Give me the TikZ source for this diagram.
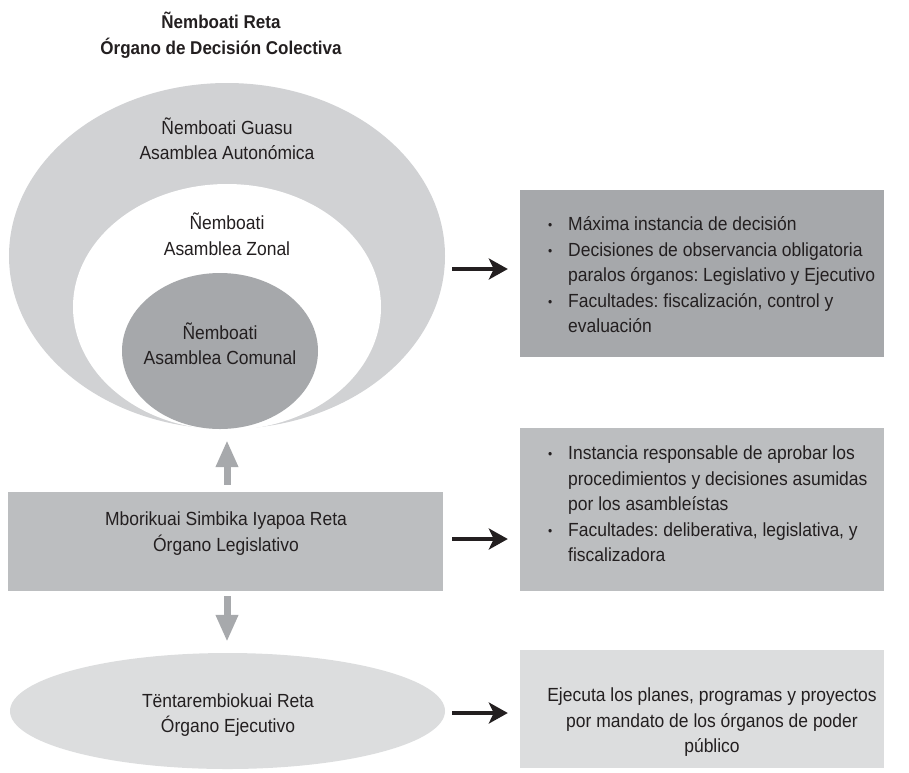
\documentclass[tikz,border=0pt]{standalone}
\usepackage{fontspec}
\setmainfont{Liberation Sans}[FakeStretch=0.92]
\usetikzlibrary{arrows.meta,shapes.geometric}
\frenchspacing
\definecolor{gOuter}{HTML}{D1D2D4}
\definecolor{gDark}{HTML}{A6A8AB}
\definecolor{gMid}{HTML}{BCBEC0}
\definecolor{gLight}{HTML}{DCDDDE}
\definecolor{gArrow}{HTML}{A7A9AC}
\definecolor{txt}{HTML}{231F20}
\newcommand\bitem{\makebox[20pt][l]{\fontsize{13}{13}\selectfont\raisebox{1pt}{•}}}
\newcommand\bcont{\hspace*{20pt}}
\tikzset{
  oval/.style={ellipse, inner sep=0pt, draw=none},
  panel/.style={rectangle, inner sep=0pt, draw=none},
  lbl/.style={text=txt, font=\fontsize{19}{25.5}\selectfont, align=center, inner sep=0pt},
  lbll/.style={text=txt, font=\fontsize{19}{25.5}\selectfont, align=left, inner sep=0pt},
  ttl/.style={text=txt, font=\bfseries\fontsize{18.5}{26}\selectfont, align=center, inner sep=0pt},
  blk/.style={draw=txt, line width=4pt, -{Stealth[length=19pt,width=21pt,inset=5pt]}},
  gry/.style={draw=gArrow, line width=7pt, -{Triangle[length=27pt,width=21pt]}},
}
\begin{document}
\begin{tikzpicture}[x=1pt,y=-1pt]
\useasboundingbox (0,0) rectangle (909,772);
% title
\node[ttl] (title) at (221,35) {Ñemboati Reta\\Órgano de Decisión Colectiva};
% nested ellipses
\node[oval, fill=gOuter, minimum width=436pt, minimum height=346pt] (outer) at (227,256) {};
\node[oval, fill=white, minimum width=308pt, minimum height=246pt] (zonal) at (227,307) {};
\node[oval, fill=gDark, minimum width=196pt, minimum height=156pt] (comunal) at (220,351) {};
\node[lbl] (tGuasu) at (227,138.5) {Ñemboati Guasu\\Asamblea Autonómica};
\node[lbl] (tZonal) at (227,234) {Ñemboati\\Asamblea Zonal};
\node[lbl] (tComunal) at (220,343.5) {Ñemboati\\Asamblea Comunal};
% legislative
\node[panel, fill=gMid, minimum width=435pt, minimum height=99pt] (legis) at (225.5,541.5) {};
\node[lbl] (tLegis) at (226,533.5) {Mborikuai Simbika Iyapoa Reta\\Órgano Legislativo};
% executive
\node[oval, fill=gLight, minimum width=435pt, minimum height=116pt] (exec) at (227.5,711) {};
\node[lbl] (tExec) at (228,715) {Tëntarembiokuai Reta\\Órgano Ejecutivo};
% right boxes
\node[panel, fill=gDark, minimum width=364pt, minimum height=167pt] (box1) at (702,273.5) {};
\node[lbll, anchor=west] (tBox1) at (548,275) {\bitem Máxima instancia de decisión\\
\bitem Decisiones de observancia obligatoria\\
\bcont paralos órganos: Legislativo y Ejecutivo\\
\bitem Facultades: fiscalización, control y\\
\bcont evaluación};
\node[panel, fill=gMid, minimum width=364pt, minimum height=163pt] (box2) at (702,509.5) {};
\node[lbll, anchor=west] (tBox2) at (548,504) {\bitem Instancia responsable de aprobar los\\
\bcont procedimientos y decisiones asumidas\\
\bcont por los asambleístas\\
\bitem Facultades: deliberativa, legislativa, y\\
\bcont fiscalizadora};
\node[panel, fill=gLight, minimum width=364pt, minimum height=118pt] (box3) at (702,709) {};
\node[lbl] (tBox3) at (712,722.5) {Ejecuta los planes, programas y proyectos\\por mandato de los órganos de poder\\público};
% gray vertical arrows
\draw[gry, shorten <=7pt, shorten >=11pt] (legis.north -| 227,0) -- (comunal.south -| 227,0);
\draw[gry, shorten <=5pt, shorten >=11pt] (legis.south -| 227,0) -- (exec.north -| 227,0);
% black arrows
\draw[blk, shorten <=7pt, shorten >=12pt] (outer.east |- 0,269) -- (box1.west |- 0,269);
\draw[blk, shorten <=9pt, shorten >=12pt] (legis.east |- 0,539) -- (box2.west |- 0,539);
\draw[blk, shorten <=7pt, shorten >=12pt] (exec.east |- 0,713) -- (box3.west |- 0,713);
\end{tikzpicture}
\end{document}
